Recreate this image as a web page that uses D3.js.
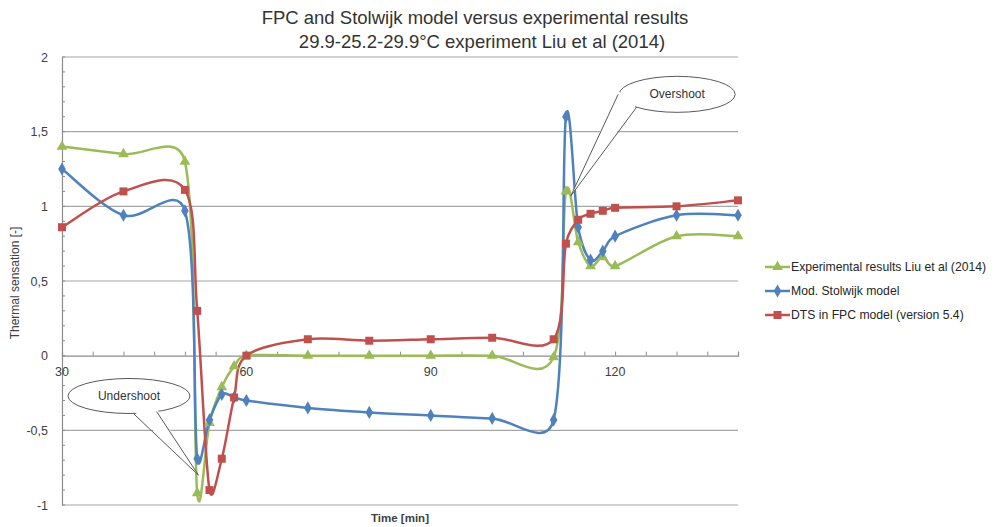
<!DOCTYPE html>
<html>
<head>
<meta charset="utf-8">
<script src="https://cdn.jsdelivr.net/npm/d3@7"></script>
<style>
  body { margin: 0; background: #fff; }
  svg { font-family: "Liberation Sans", Arial, sans-serif; }
</style>
</head>
<body>
<svg id="chart" width="999" height="527"></svg>
<script>
// data
const times = [30, 40, 50, 52, 54, 56, 58, 60, 70, 80, 90, 100, 110, 112, 114, 116, 118, 120, 130, 140];
const experimental = [1.4, 1.35, 1.3, -0.92, -0.45, -0.21, -0.07, 0, 0, 0, 0, 0, -0.01, 1.1, 0.76, 0.6, 0.66, 0.6, 0.8, 0.8];
const stolwijk = [1.25, 0.94, 0.97, -0.69, -0.43, -0.26, -0.28, -0.3, -0.35, -0.38, -0.4, -0.42, -0.43, 1.6, 0.86, 0.64, 0.7, 0.8, 0.94, 0.94];
const dts = [0.86, 1.1, 1.11, 0.3, -0.9, -0.69, -0.28, 0, 0.11, 0.1, 0.11, 0.12, 0.11, 0.75, 0.91, 0.95, 0.97, 0.99, 1.0, 1.04];

const seriesNames = ["Experimental results Liu et al (2014)", "Mod. Stolwijk model", "DTS in FPC model (version 5.4)"];
const seriesColors = ["#9bbb59", "#4f81bd", "#c0504d"];
const seriesSymbols = [d3.symbolTriangle, d3.symbolDiamond, d3.symbolSquare];

const yTicks = [-1, -0.5, 0, 0.5, 1, 1.5, 2];
const xLabels = [30, 60, 90, 120];

const svg = d3.select("#chart");

const x = d3.scaleLinear().domain([30, 140]).range([62, 738]);
const y = d3.scaleLinear().domain([-1, 2]).range([505, 57]);

// Excel-style smoothed line: bezier with 1/6 tangents, clamped on short segments
function smoothPath(pts) {
  const p = d3.path();
  const dist = (a, b) => Math.hypot(b[0] - a[0], b[1] - a[1]);
  p.moveTo(pts[0][0], pts[0][1]);
  for (let i = 0; i < pts.length - 1; i++) {
    const p0 = pts[i - 1] || pts[i], p1 = pts[i], p2 = pts[i + 1], p3 = pts[i + 2] || pts[i + 1];
    const d12 = dist(p1, p2), d02 = dist(p0, p2), d13 = dist(p1, p3);
    const f1 = d02 > 0 ? Math.min(1 / 6, 0.5 * d12 / d02) : 0;
    const f2 = d13 > 0 ? Math.min(1 / 6, 0.5 * d12 / d13) : 0;
    p.bezierCurveTo(
      p1[0] + f1 * (p2[0] - p0[0]), p1[1] + f1 * (p2[1] - p0[1]),
      p2[0] - f2 * (p3[0] - p1[0]), p2[1] - f2 * (p3[1] - p1[1]),
      p2[0], p2[1]);
  }
  return p.toString();
}

// title
svg.append("text")
  .attr("x", 475).attr("y", 24)
  .attr("text-anchor", "middle")
  .attr("font-size", 18.5)
  .attr("fill", "#333")
  .text("FPC and Stolwijk model versus experimental results");
svg.append("text")
  .attr("x", 482).attr("y", 48)
  .attr("text-anchor", "middle")
  .attr("font-size", 18.5)
  .attr("fill", "#333")
  .text("29.9-25.2-29.9°C  experiment Liu et al (2014)");

// horizontal gridlines
svg.append("g").selectAll("line")
  .data(yTicks.filter(d => d !== 0))
  .enter().append("line")
  .attr("x1", x(30)).attr("x2", x(140))
  .attr("y1", d => y(d)).attr("y2", d => y(d))
  .attr("stroke", "#a6a6a6")
  .attr("stroke-width", 1.2);

// left axis with minor ticks
const yAxis = d3.axisLeft(y).tickValues(yTicks)
  .tickFormat(d => String(d).replace(".", ","))
  .tickSize(0).tickPadding(14);
const yg = svg.append("g").attr("transform", `translate(${x(30)},0)`).call(yAxis);
yg.select(".domain").attr("stroke", "#8c8c8c").attr("stroke-width", 1.2);
yg.selectAll("text").attr("font-size", 12.5).attr("fill", "#404040").attr("font-family", "Liberation Sans, Arial, sans-serif");

svg.append("g").selectAll("line")
  .data(d3.range(-10, 21).map(d => d / 10))
  .enter().append("line")
  .attr("x1", x(30)).attr("x2", x(30) + 3)
  .attr("y1", d => y(d)).attr("y2", d => y(d))
  .attr("stroke", "#8c8c8c");

// x axis at y = 0
const xAxis = d3.axisTop(x).tickValues(d3.range(30, 141, 5)).tickSize(4).tickFormat("");
const xg = svg.append("g").attr("transform", `translate(0,${y(0)})`).call(xAxis);
xg.select(".domain").attr("stroke", "#8c8c8c").attr("stroke-width", 1.2);
xg.selectAll("line").attr("stroke", "#8c8c8c");

svg.append("g").selectAll("text")
  .data(xLabels)
  .enter().append("text")
  .attr("x", d => x(d)).attr("y", y(0) + 20)
  .attr("text-anchor", "middle")
  .attr("font-size", 12.5)
  .attr("fill", "#404040")
  .text(d => d);

// axis titles
svg.append("text")
  .attr("x", 400).attr("y", 522)
  .attr("text-anchor", "middle")
  .attr("font-size", 11.5)
  .attr("font-weight", "bold")
  .attr("fill", "#404040")
  .text("Time [min]");
svg.append("text")
  .attr("transform", "translate(19,283) rotate(-90)")
  .attr("text-anchor", "middle")
  .attr("font-size", 12)
  .attr("fill", "#404040")
  .text("Thermal  sensation [-]");

// series
const allSeries = [experimental, stolwijk, dts];

allSeries.forEach((vals, i) => {
  const pts = times.map((t, j) => [x(t), y(vals[j])]);
  svg.append("path")
    .attr("fill", "none")
    .attr("stroke", seriesColors[i])
    .attr("stroke-width", 2.5)
    .attr("d", smoothPath(pts));
});

allSeries.forEach((vals, i) => {
  const pts = times.map((t, j) => [t, vals[j]]);
  const size = i === 2 ? 64 : 50;
  svg.append("g").selectAll("path")
    .data(pts)
    .enter().append("path")
    .attr("transform", d => `translate(${x(d[0])},${y(d[1])})`)
    .attr("d", d3.symbol().type(seriesSymbols[i]).size(size))
    .attr("fill", seriesColors[i]);
});

// legend
const legend = svg.append("g").attr("transform", "translate(765,267)");
seriesNames.forEach((name, i) => {
  const g = legend.append("g").attr("transform", `translate(0,${i * 24})`);
  g.append("line").attr("x1", 0).attr("x2", 25).attr("y1", 0).attr("y2", 0)
    .attr("stroke", seriesColors[i]).attr("stroke-width", 2.5);
  g.append("path").attr("transform", "translate(12.5,0)")
    .attr("d", d3.symbol().type(seriesSymbols[i]).size(i === 2 ? 64 : 50))
    .attr("fill", seriesColors[i]);
  g.append("text").attr("x", 26).attr("y", 4)
    .attr("font-size", 12.2)
    .attr("fill", "#262626")
    .text(name);
});

// callouts
const callouts = [
  { label: "Overshoot", cx: 130.1, cy: 1.75, rx: 58, ry: 18, tipX: 112.8, tipY: 1.07, b1: 120.5, b2: 123.5 },
  { label: "Undershoot", cx: 40.9, cy: -0.27, rx: 61, ry: 17.5, tipX: 52.2, tipY: -0.8, b1: 41.6, b2: 45.4 }
];
callouts.forEach(c => {
  const cx = x(c.cx), cy = y(c.cy);
  const tx = x(c.tipX), ty = y(c.tipY);
  const base = [x(c.b1), x(c.b2)].map(px => {
    const dx = (px - cx) / c.rx;
    return [px, cy + c.ry * Math.sqrt(Math.max(0, 1 - dx * dx))];
  });
  const g = svg.append("g");
  g.append("ellipse")
    .attr("cx", cx).attr("cy", cy).attr("rx", c.rx).attr("ry", c.ry)
    .attr("fill", "#fff").attr("stroke", "#595959").attr("stroke-width", 1);
  g.append("path")
    .attr("d", `M${base[0][0]},${base[0][1] - 3}L${tx},${ty}L${base[1][0]},${base[1][1] - 3}Z`)
    .attr("fill", "#fff");
  g.append("path")
    .attr("d", `M${base[0][0]},${base[0][1]}L${tx},${ty}L${base[1][0]},${base[1][1]}`)
    .attr("fill", "none").attr("stroke", "#595959").attr("stroke-width", 1);
  g.append("text")
    .attr("x", cx).attr("y", cy + 4)
    .attr("text-anchor", "middle")
    .attr("font-size", 12)
    .attr("fill", "#333")
    .text(c.label);
});
</script>
</body>
</html>
